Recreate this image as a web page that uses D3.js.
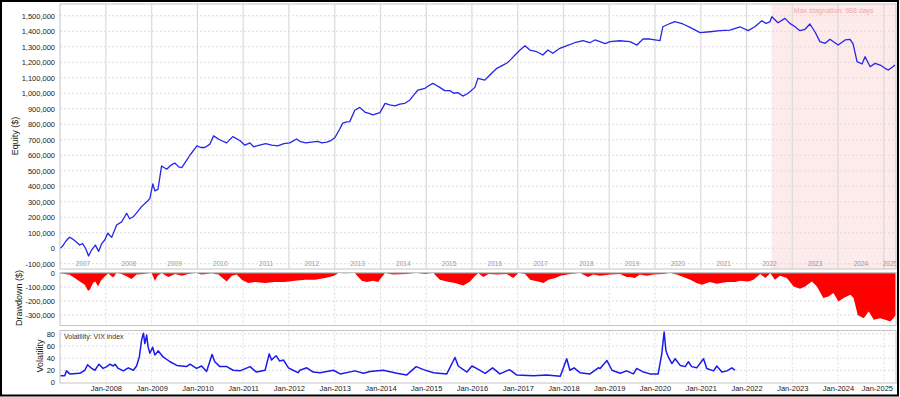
<!DOCTYPE html>
<html><head><meta charset="utf-8">
<script src="https://cdn.jsdelivr.net/npm/d3@7"></script>
<style>
html,body{margin:0;padding:0;background:#fff;}
svg{display:block;font-family:"Liberation Sans",Arial,sans-serif;}
</style></head>
<body>
<svg id="c" width="900" height="397"></svg>
<script>
// ---------------- DATA ----------------
const equityDates = ["2007-01-01","2007-01-22","2007-02-15","2007-03-17","2007-04-10","2007-05-04","2007-06-06","2007-06-29","2007-07-23","2007-08-16","2007-09-10","2007-10-09","2007-11-05","2007-11-29","2007-12-23",
"2008-01-16","2008-02-17","2008-03-27","2008-05-06","2008-06-15","2008-07-09","2008-08-10","2008-09-04","2008-10-14","2008-11-23","2008-12-17",
"2009-01-10","2009-01-26","2009-02-20","2009-03-21","2009-05-01","2009-06-02","2009-07-04","2009-08-05","2009-08-29","2009-10-01","2009-11-02","2009-12-28",
"2010-01-28","2010-02-28","2010-04-09","2010-05-10","2010-06-27","2010-08-22","2010-10-10","2010-12-05",
"2011-01-15","2011-02-24","2011-03-26","2011-05-13","2011-06-30","2011-08-17","2011-10-04","2011-11-22",
"2012-01-08","2012-03-03","2012-03-27","2012-05-14","2012-07-01","2012-08-18","2012-09-20","2012-10-30","2012-12-01",
"2013-01-03","2013-02-04","2013-03-06","2013-04-07","2013-05-01","2013-06-10","2013-07-20","2013-08-29","2013-10-01","2013-11-02","2013-12-28",
"2014-02-07","2014-03-16","2014-04-26","2014-06-05","2014-07-15","2014-08-24","2014-09-25","2014-10-27","2014-12-22",
"2015-01-23","2015-02-24","2015-03-26","2015-04-19","2015-05-29","2015-07-08","2015-08-09","2015-09-11","2015-10-20","2015-11-22","2015-12-16",
"2016-01-25","2016-02-18","2016-04-13","2016-05-23","2016-07-18","2016-09-05","2016-10-07","2016-11-01","2016-12-10",
"2017-01-19","2017-02-28","2017-04-07","2017-06-02","2017-07-20","2017-08-29","2017-10-08","2017-12-03",
"2018-01-29","2018-04-01","2018-06-05","2018-07-30","2018-09-09","2018-10-19","2018-11-28",
"2019-01-08","2019-03-26","2019-06-15","2019-08-10","2019-09-28","2019-11-22",
"2020-02-10","2020-03-04","2020-04-29","2020-06-08","2020-08-11","2020-10-07","2020-12-26",
"2021-03-14","2021-06-03","2021-08-22","2021-11-10",
"2022-01-13","2022-03-08","2022-05-03","2022-06-05","2022-07-06","2022-07-22","2022-09-09","2022-11-04","2022-12-13",
"2023-01-23","2023-03-03","2023-04-12","2023-05-22","2023-07-01","2023-08-10","2023-09-20","2023-10-29",
"2024-01-02","2024-02-27","2024-04-06","2024-04-30","2024-06-01","2024-07-11","2024-08-04","2024-09-14","2024-10-23","2024-12-03",
"2025-01-11","2025-02-05","2025-03-14","2025-03-30"];
const equityValues = [0,15,45,71,60,45,21,30,0,-50,-10,20,-20,30,53,
97,70,150,170,226,190,205,230,270,300,320,
415,370,380,531,510,535,550,525,520,560,600,660,
650,650,670,725,700,680,720,695,
665,680,655,665,675,665,660,675,
680,705,690,680,685,690,680,685,695,
715,760,807,815,817,890,909,879,870,860,875,
935,925,918,930,935,957,990,1021,1032,
1050,1064,1050,1038,1017,1017,1000,1004,982,995,1010,
1038,1096,1085,1118,1161,1182,1195,1214,1247,
1279,1307,1279,1268,1247,1279,1258,1290,
1307,1326,1339,1326,1344,1333,1320,
1333,1339,1333,1311,1350,1350,
1339,1429,1450,1462,1447,1425,1391,
1397,1404,1408,1429,
1404,1429,1468,1451,1460,1494,1455,1483,1451,
1429,1404,1413,1447,1397,1333,1322,1348,
1311,1344,1348,1320,1204,1189,1236,1171,1193,1182,
1161,1150,1171,1182].map(v => v * 1000);

const drawdownYears = [2007.00,2007.10,2007.21,2007.32,2007.43,2007.54,2007.61,2007.65,2007.72,2007.77,2007.83,2007.89,2007.98,
2008.05,2008.16,2008.23,2008.34,2008.44,2008.56,2008.67,2008.82,
2009.00,2009.07,2009.14,2009.22,2009.36,2009.51,2009.66,2009.80,2009.98,
2010.09,2010.31,2010.46,2010.64,2010.75,2010.86,2010.97,
2011.11,2011.26,2011.48,2011.69,2011.91,
2012.13,2012.35,2012.57,2012.79,2012.97,
2013.08,2013.23,2013.44,2013.59,2013.70,2013.84,2013.95,
2014.03,2014.10,2014.28,2014.57,2014.79,2014.97,
2015.16,2015.30,2015.45,2015.63,2015.81,2015.96,
2016.07,2016.14,2016.25,2016.36,2016.54,2016.76,2016.90,
2017.01,2017.16,2017.27,2017.49,2017.56,2017.67,2017.82,2017.93,
2018.15,2018.37,2018.54,2018.65,2018.80,
2019.02,2019.24,2019.38,2019.45,2019.56,2019.67,2019.82,2019.97,
2020.18,2020.33,2020.48,2020.62,2020.77,2020.91,
2021.02,2021.20,2021.35,2021.57,2021.75,2021.86,
2022.04,2022.15,2022.30,2022.41,2022.52,2022.62,2022.73,2022.88,
2023.03,2023.17,2023.28,2023.43,2023.54,2023.68,2023.79,2023.90,
2024.01,2024.12,2024.27,2024.34,2024.43,2024.56,2024.67,2024.78,2024.92,
2025.03,2025.14,2025.21,2025.26];
const drawdownValues = [-3,-5,-12,-35,-59,-83,-126,-119,-71,-59,-95,-55,-22,
-3,-31,0,-5,-20,-41,-10,-5,
0,-54,-15,0,-27,-6,-18,-5,0,
-10,-3,-10,-59,-18,-10,-47,
-71,-63,-71,-63,-63,
-54,-47,-47,-35,-20,
0,-3,0,-54,-63,-54,-63,
-27,0,-10,-5,0,-5,
0,-47,-59,-71,-88,-59,
-18,0,-27,-5,-10,-5,-35,
0,-5,-47,-63,-71,-47,-35,-18,
-5,0,-27,-10,-18,
-10,-5,-27,-27,-35,-10,-18,-10,
-5,0,-10,-27,-47,-71,
-83,-63,-76,-63,-63,-54,
-59,-47,-5,-35,0,-47,-18,-35,
-95,-112,-95,-59,-95,-179,-167,-143,
-203,-179,-155,-179,-300,-323,-275,-335,-323,
-335,-347,-323,-300].map(v => v * 1000);

const vixYears = [2007.00,2007.10,2007.14,2007.21,2007.43,2007.54,2007.60,2007.69,2007.76,2007.85,2007.94,
2008.02,2008.09,2008.16,2008.20,2008.27,2008.38,2008.49,2008.60,2008.67,2008.73,2008.78,2008.82,2008.85,2008.89,2008.92,2008.96,
2009.02,2009.07,2009.14,2009.25,2009.40,2009.55,2009.76,2009.84,2009.98,
2010.09,2010.20,2010.32,2010.38,2010.49,2010.64,2010.78,2010.93,
2011.15,2011.29,2011.48,2011.57,2011.62,2011.72,2011.80,2011.88,2011.99,
2012.09,2012.20,2012.24,2012.39,2012.53,2012.68,2012.97,
2013.12,2013.44,2013.63,2013.77,
2014.06,2014.36,2014.57,2014.78,2014.94,
2015.16,2015.45,2015.63,2015.70,2015.89,
2016.00,2016.10,2016.29,2016.45,2016.61,2016.82,2016.98,
2017.34,2017.63,2017.93,
2018.07,2018.14,2018.23,2018.36,2018.58,2018.76,2018.80,2018.95,
2019.06,2019.24,2019.38,2019.53,2019.60,2019.75,2019.89,
2020.07,2020.15,2020.20,2020.24,2020.29,2020.37,2020.44,2020.55,2020.66,2020.73,2020.80,2020.91,
2021.06,2021.13,2021.28,2021.35,2021.46,2021.57,2021.68,2021.75];
const vixValues = [11,11,19,14,15,20,29,23,20,30,23,
26,30,27,30,23,19,24,20,27,42,70,81,64,78,59,48,
58,45,52,42,34,28,26,30,23,
27,18,46,34,26,26,20,19,
26,17,20,47,37,44,35,37,24,
20,16,20,24,17,16,20,
14,19,15,18,
20,15,12,26,21,
16,14,41,27,17,
27,23,15,24,14,21,12,
11,12,10,
39,20,24,16,14,24,23,36,
20,15,19,14,23,17,14,
14,48,83,52,42,31,39,28,26,34,26,24,
39,23,19,27,17,19,24,20];

const equityTicks = [-100000,0,100000,200000,300000,400000,500000,600000,700000,800000,900000,1000000,1100000,1200000,1300000,1400000,1500000];
const drawdownTicks = [0,-100000,-200000,-300000];
const vixTicks = [0,20,40,60,80];
const yearLabels = [2007,2008,2009,2010,2011,2012,2013,2014,2015,2016,2017,2018,2019,2020,2021,2022,2023,2024,2025];
const janLabels = ["Jan-2008","Jan-2009","Jan-2010","Jan-2011","Jan-2012","Jan-2013","Jan-2014","Jan-2015","Jan-2016","Jan-2017","Jan-2018","Jan-2019","Jan-2020","Jan-2021","Jan-2022","Jan-2023","Jan-2024","Jan-2025"];
const stagnationStart = "2022-07-19";
const stagnationLabel = "Max stagnation: 988 days";
const titles = {equity: "Equity ($)", drawdown: "Drawdown ($)", vix: "Volatility", vixLegend: "Volatility: VIX index"};

// ---------------- HELPERS ----------------
const parse = d3.utcParse("%Y-%m-%d");
function yearToDate(v){
  const y = Math.floor(v);
  const a = Date.UTC(y,0,1), b = Date.UTC(y+1,0,1);
  return new Date(a + (v - y) * (b - a));
}
const fmt = v => d3.format(",")(v).replace("\u2212","-");

const svg = d3.select("#c");
const L = 60, R = 896;
const x = d3.scaleUtc().domain([parse("2006-12-31"), parse("2025-04-08")]).range([L, R]);

const P1 = {top: 4, bottom: 269};
const P2 = {top: 272.5, bottom: 325.5};
const P3 = {top: 330.5, bottom: 383};

const yE = d3.scaleLinear().domain([-134000, 1576000]).range([P1.bottom, P1.top]);
const yD = d3.scaleLinear().domain([-376000, 5000]).range([P2.bottom, P2.top]);
const yV = d3.scaleLinear().domain([-1, 85.5]).range([P3.bottom, P3.top]);

svg.append("rect").attr("width",900).attr("height",397).attr("fill","#fff");

const janDates = yearLabels.slice(1).map(y => new Date(Date.UTC(y,0,1)));

function clip(id, P){
  svg.append("clipPath").attr("id",id).append("rect")
    .attr("x",L).attr("y",P.top).attr("width",R-L).attr("height",P.bottom-P.top);
}
clip("c1",P1); clip("c2",P2); clip("c3",P3);

// ---- Panel 1: equity ----
const g1 = svg.append("g").attr("clip-path","url(#c1)");
const sx = x(parse(stagnationStart));
g1.append("rect").attr("x",sx).attr("y",P1.top).attr("width",R-sx).attr("height",P1.bottom-P1.top).attr("fill","#fdeaea");
g1.selectAll(".hg").data(equityTicks).join("line")
  .attr("x1",L).attr("x2",R).attr("y1",d=>yE(d)).attr("y2",d=>yE(d))
  .attr("stroke","#dcdcdc").attr("stroke-width",1).attr("stroke-dasharray","2,2");
g1.selectAll(".vg").data(janDates).join("line")
  .attr("x1",d=>x(d)).attr("x2",d=>x(d)).attr("y1",P1.top).attr("y2",P1.bottom)
  .attr("stroke","#dadada").attr("stroke-width",1.2);
g1.selectAll(".yl").data(yearLabels).join("text")
  .attr("x",d=>{
    const a = Math.max(x(new Date(Date.UTC(d,0,1))), L);
    const b = Math.min(x(new Date(Date.UTC(d+1,0,1))), R);
    return (a+b)/2;
  })
  .attr("y",P1.bottom-3).attr("text-anchor","middle")
  .attr("font-size","6.5px").attr("fill","#9a9a9a").text(d=>d);
g1.append("text").attr("x",(sx+R)/2).attr("y",12.5).attr("text-anchor","middle")
  .attr("font-size","7px").attr("fill","#f2a8a8").text(stagnationLabel);
const eqData = equityDates.map((d,i)=>[parse(d), equityValues[i]]);
g1.append("path").datum(eqData)
  .attr("d", d3.line().x(d=>x(d[0])).y(d=>yE(d[1])))
  .attr("fill","none").attr("stroke","#2626e8").attr("stroke-width",1.3).attr("stroke-linejoin","round");

// ---- Panel 2: drawdown ----
const g2 = svg.append("g").attr("clip-path","url(#c2)");
g2.selectAll(".hg").data(drawdownTicks.slice(1)).join("line")
  .attr("x1",L).attr("x2",R).attr("y1",d=>yD(d)).attr("y2",d=>yD(d))
  .attr("stroke","#dcdcdc").attr("stroke-dasharray","2,2");
g2.selectAll(".vg").data(janDates).join("line")
  .attr("x1",d=>x(d)).attr("x2",d=>x(d)).attr("y1",P2.top).attr("y2",P2.bottom)
  .attr("stroke","#dcdcdc").attr("stroke-dasharray","2,2");
const ddData = drawdownYears.map((d,i)=>[yearToDate(d), drawdownValues[i]]);
g2.append("path").datum(ddData)
  .attr("d", d3.area().x(d=>x(d[0])).y0(yD(0)).y1(d=>yD(d[1])))
  .attr("fill","#ff0000");

// ---- Panel 3: volatility ----
const g3 = svg.append("g").attr("clip-path","url(#c3)");
g3.selectAll(".hg").data(vixTicks.slice(1)).join("line")
  .attr("x1",L).attr("x2",R).attr("y1",d=>yV(d)).attr("y2",d=>yV(d))
  .attr("stroke","#dcdcdc").attr("stroke-dasharray","2,2");
g3.selectAll(".vg").data(janDates).join("line")
  .attr("x1",d=>x(d)).attr("x2",d=>x(d)).attr("y1",P3.top).attr("y2",P3.bottom)
  .attr("stroke","#dcdcdc").attr("stroke-dasharray","2,2");
const vxData = vixYears.map((d,i)=>[yearToDate(d), vixValues[i]]);
g3.append("path").datum(vxData)
  .attr("d", d3.line().x(d=>x(d[0])).y(d=>yV(d[1])))
  .attr("fill","none").attr("stroke","#1a1aee").attr("stroke-width",1.5).attr("stroke-linejoin","round");
g3.append("text").attr("x",L+4).attr("y",P3.top+8).attr("font-size","7px").attr("fill","#333").text(titles.vixLegend);

// ---- Panel borders ----
[P1,P2,P3].forEach(P=>{
  svg.append("rect").attr("x",L).attr("y",P.top).attr("width",R-L).attr("height",P.bottom-P.top)
    .attr("fill","none").attr("stroke","#c4c4c4").attr("stroke-width",1);
});

// ---- Axes ----
function styleAxis(g){
  g.select(".domain").remove();
  g.selectAll("text").attr("font-size","7.5px").attr("fill","#222").attr("font-family","'Liberation Sans',Arial,sans-serif");
}
svg.append("g").attr("transform",`translate(${L},0)`)
  .call(d3.axisLeft(yE).tickValues(equityTicks).tickFormat(fmt).tickSize(0).tickPadding(5)).call(styleAxis);
svg.append("g").attr("transform",`translate(${L},0)`)
  .call(d3.axisLeft(yD).tickValues(drawdownTicks).tickFormat(fmt).tickSize(0).tickPadding(5)).call(styleAxis);
svg.append("g").attr("transform",`translate(${L},0)`)
  .call(d3.axisLeft(yV).tickValues(vixTicks).tickFormat(fmt).tickSize(0).tickPadding(5)).call(styleAxis);
const xAxisG = svg.append("g").attr("transform",`translate(0,${P3.bottom})`)
  .call(d3.axisBottom(x).tickValues(janDates).tickFormat((d,i)=>janLabels[i]).tickSize(0).tickPadding(3)).call(styleAxis);
// keep the last label inside the frame
xAxisG.selectAll(".tick text").each(function(){
  const bb = this.getBBox();
  const tr = this.parentNode.getAttribute("transform");
  const tx = +tr.match(/translate\(([-\d.]+)/)[1];
  const right = tx + bb.x + bb.width;
  if (right > 893) d3.select(this).attr("x", 893 - right);
});

// ---- Axis titles ----
function vtitle(txt, cx, cy){
  svg.append("text").attr("transform",`translate(${cx},${cy}) rotate(-90)`)
    .attr("text-anchor","middle").attr("dominant-baseline","central")
    .attr("font-size","9px").attr("fill","#222").text(txt);
}
vtitle(titles.equity, 15, 136);
vtitle(titles.drawdown, 18.5, 298);
vtitle(titles.vix, 39.5, 356);

// ---- outer frame ----
svg.append("rect").attr("x",1).attr("y",1).attr("width",897).attr("height",394.5)
  .attr("fill","none").attr("stroke","#000").attr("stroke-width",2);
</script>
</body></html>
